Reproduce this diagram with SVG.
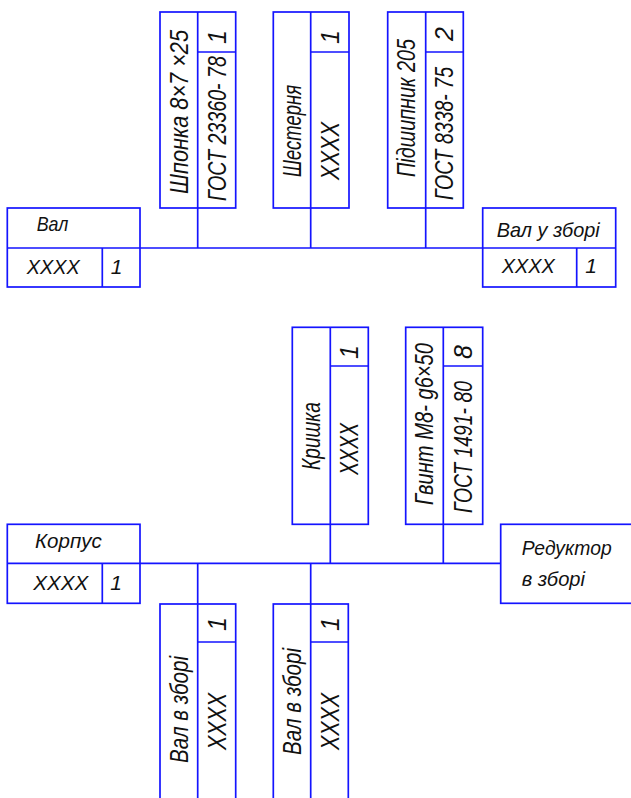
<svg xmlns="http://www.w3.org/2000/svg" width="631" height="798" viewBox="0 0 631 798">
<style>
.b{fill:none;stroke:#1414ff;stroke-width:1.7}
.c{fill:none;stroke:#1414ff;stroke-width:1.7}
.t{font-family:"Liberation Sans","DejaVu Sans",sans-serif;font-style:italic;fill:#111;font-size:21px}
.r{font-family:"Liberation Sans","DejaVu Sans",sans-serif;font-style:italic;fill:#111;font-size:25px}
</style>
<rect width="631" height="798" fill="#fff"/>
<g id="connectors">
<path class="c" d="M140 248H482.7M197.7 208V248M310.7 208V248M425.7 208V248"/>
<path class="c" d="M140 563.3H500.7M330.3 524.3V563.3M443.3 524.3V563.3M197.7 563.3V604M310.7 563.3V604"/>
</g>
<g id="val">
<rect class="b" x="7.3" y="208" width="132.7" height="79"/>
<path class="b" d="M7.3 248H140M102.3 248V287"/>
<text class="t" x="36.7" y="231" textLength="31.7" lengthAdjust="spacingAndGlyphs">Вал</text>
<text class="t" x="26.7" y="274" textLength="53" lengthAdjust="spacingAndGlyphs">XXXX</text>
<text class="t" x="116.5" y="274" text-anchor="middle">1</text>
</g>
<g id="shponka">
<rect class="b" x="160" y="12" width="75.7" height="196"/>
<path class="b" d="M197.7 12V208M197.7 52H235.7"/>
<text class="r" transform="translate(188,194) rotate(-90)" textLength="164" lengthAdjust="spacingAndGlyphs">Шпонка 8×7 ×25</text>
<text class="r" transform="translate(226,201) rotate(-90)" textLength="145" lengthAdjust="spacingAndGlyphs">ГОСТ 23360- 78</text>
<text class="r" transform="translate(226,37) rotate(-90)" text-anchor="middle">1</text>
</g>
<g id="shesternia">
<rect class="b" x="273.3" y="12" width="75.7" height="196"/>
<path class="b" d="M310.7 12V208M310.7 52H349"/>
<text class="r" transform="translate(301,177) rotate(-90)" textLength="92" lengthAdjust="spacingAndGlyphs">Шестерня</text>
<text class="r" transform="translate(339,180) rotate(-90)" textLength="58" lengthAdjust="spacingAndGlyphs">XXXX</text>
<text class="r" transform="translate(339,37) rotate(-90)" text-anchor="middle">1</text>
</g>
<g id="pidshypnyk">
<rect class="b" x="387.7" y="12" width="75.6" height="196"/>
<path class="b" d="M425.7 12V208M425.7 52H463.3"/>
<text class="r" transform="translate(415,177) rotate(-90)" textLength="138" lengthAdjust="spacingAndGlyphs">Підшипник 205</text>
<text class="r" transform="translate(453,200) rotate(-90)" textLength="133" lengthAdjust="spacingAndGlyphs">ГОСТ 8338- 75</text>
<text class="r" transform="translate(453,34) rotate(-90)" text-anchor="middle">2</text>
</g>
<g id="val-u-zbori">
<rect class="b" x="482.7" y="208" width="133" height="79"/>
<path class="b" d="M482.7 248H615.7M576.7 248V287"/>
<text class="t" x="496.7" y="237" textLength="103" lengthAdjust="spacingAndGlyphs">Вал у зборі</text>
<text class="t" x="501.7" y="273" textLength="53" lengthAdjust="spacingAndGlyphs">XXXX</text>
<text class="t" x="591" y="273" text-anchor="middle">1</text>
</g>
<g id="korpus">
<rect class="b" x="7.3" y="524.3" width="132.7" height="79"/>
<path class="b" d="M7.3 563.3H140M102.3 563.3V603.3"/>
<text class="t" x="35" y="548" textLength="66.7" lengthAdjust="spacingAndGlyphs">Корпус</text>
<text class="t" x="33.3" y="590" textLength="55" lengthAdjust="spacingAndGlyphs">XXXX</text>
<text class="t" x="116" y="590" text-anchor="middle">1</text>
</g>
<g id="kryshka">
<rect class="b" x="292.3" y="327.3" width="76" height="197"/>
<path class="b" d="M330.3 327.3V524.3M330.3 366H368.3"/>
<text class="r" transform="translate(320,470) rotate(-90)" textLength="68" lengthAdjust="spacingAndGlyphs">Кришка</text>
<text class="r" transform="translate(358,475) rotate(-90)" textLength="52" lengthAdjust="spacingAndGlyphs">XXXX</text>
<text class="r" transform="translate(358,352) rotate(-90)" text-anchor="middle">1</text>
</g>
<g id="gvynt">
<rect class="b" x="405.7" y="327.3" width="77" height="197"/>
<path class="b" d="M443.3 327.3V524.3M443.3 366H482.7"/>
<text class="r" transform="translate(433,505) rotate(-90)" textLength="162" lengthAdjust="spacingAndGlyphs">Гвинт М8- g6×50</text>
<text class="r" transform="translate(472,513) rotate(-90)" textLength="132" lengthAdjust="spacingAndGlyphs">ГОСТ 1491- 80</text>
<text class="r" transform="translate(472,352) rotate(-90)" text-anchor="middle">8</text>
</g>
<g id="reduktor">
<rect class="b" x="500.7" y="524.3" width="140" height="79"/>
<text class="t" x="521.7" y="555" textLength="90" lengthAdjust="spacingAndGlyphs">Редуктор</text>
<text class="t" x="521.7" y="586" textLength="63.3" lengthAdjust="spacingAndGlyphs">в зборі</text>
</g>
<g id="val-v-zbori-1">
<rect class="b" x="160" y="604" width="75.7" height="210"/>
<path class="b" d="M197.7 604V814M197.7 642H235.7"/>
<text class="r" transform="translate(188,763) rotate(-90)" textLength="107" lengthAdjust="spacingAndGlyphs">Вал в зборі</text>
<text class="r" transform="translate(226,750) rotate(-90)" textLength="57" lengthAdjust="spacingAndGlyphs">XXXX</text>
<text class="r" transform="translate(226,624) rotate(-90)" text-anchor="middle">1</text>
</g>
<g id="val-v-zbori-2">
<rect class="b" x="273.3" y="604" width="75" height="210"/>
<path class="b" d="M310.7 604V814M310.7 642H348.3"/>
<text class="r" transform="translate(301,755) rotate(-90)" textLength="107" lengthAdjust="spacingAndGlyphs">Вал в зборі</text>
<text class="r" transform="translate(339,750) rotate(-90)" textLength="57" lengthAdjust="spacingAndGlyphs">XXXX</text>
<text class="r" transform="translate(339,624) rotate(-90)" text-anchor="middle">1</text>
</g>
</svg>
